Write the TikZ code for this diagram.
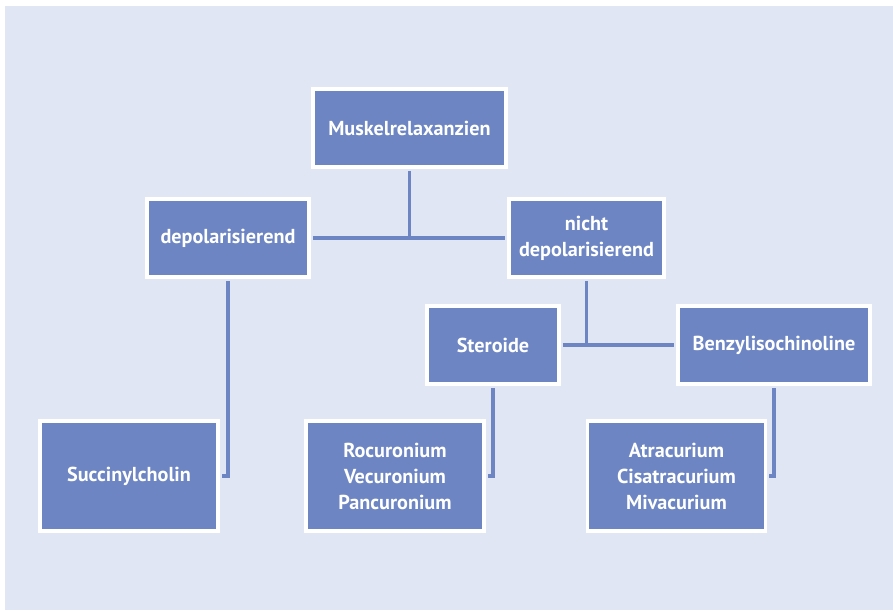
\documentclass[tikz,border=0pt]{standalone}
\usepackage{fontspec}
\setmainfont{PT Sans}
\usepackage{tikz}
\usetikzlibrary{positioning}

\definecolor{bgblue}{HTML}{E0E6F3}
\definecolor{boxblue}{HTML}{6D85C3}

\begin{document}
\begin{tikzpicture}[x=0.02cm,y=-0.02cm,shorten >=1pt,shorten <=1pt,
    thick,box node/.style={rectangle,fill=boxblue,draw=white,line width=2pt,
    text=white,align=center,font=\fontsize{11.5}{14.8}\selectfont\bfseries},
    link/.style={draw=boxblue,line width=2.2pt}]

\useasboundingbox (0,0) rectangle (893,610);
\fill[bgblue] (5,6) rectangle (893,610);

\node[box node, minimum width=3.87cm, minimum height=1.57cm] (muskel) at (409.5,128) {Muskelrelaxanzien};
\node[box node, minimum width=3.25cm, minimum height=1.57cm] (depol) at (228,238) {depolarisierend};
\node[box node, minimum width=3.11cm, minimum height=1.57cm] (nicht) at (586.5,238) {nicht\\depolarisierend};
\node[box node, minimum width=2.65cm, minimum height=1.57cm] (ster) at (493,345) {Steroide};
\node[box node, minimum width=3.85cm, minimum height=1.57cm] (benz) at (774,345) {Benzylisochinoline};
\node[box node, minimum width=3.57cm, minimum height=2.21cm] (succ) at (129,476) {Succinylcholin};
\node[box node, minimum width=3.57cm, minimum height=2.21cm] (rocu) at (395,476) {Rocuronium\\Vecuronium\\Pancuronium};
\node[box node, minimum width=3.57cm, minimum height=2.21cm] (atra) at (676.5,476) {Atracurium\\Cisatracurium\\Mivacurium};

\path[link]
(muskel.south) edge (muskel.south |- depol.east)
(depol.east) edge (nicht.west)
(nicht.south) edge (nicht.south |- ster.east)
(ster.east) edge (benz.west);

\draw[link] (depol.south) |- (succ.east);
\draw[link] (ster.south) |- (rocu.east);
\draw[link] (benz.south) |- (atra.east);

\end{tikzpicture}
\end{document}
